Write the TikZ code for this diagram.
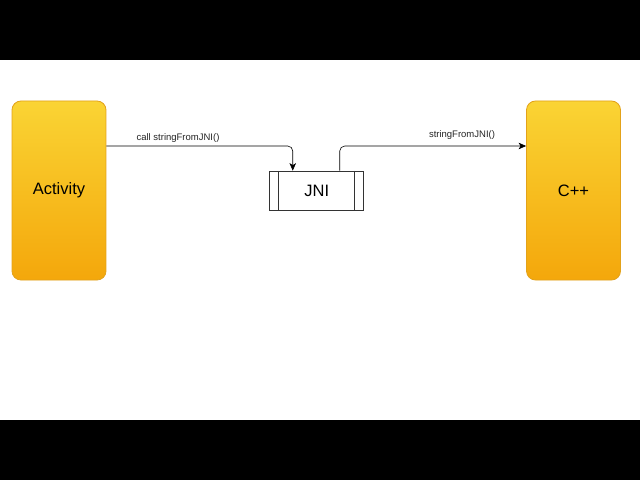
\documentclass[tikz,border=0pt]{standalone}
\usepackage{fontspec}
\setmainfont{Liberation Sans}
\usetikzlibrary{arrows.meta,positioning}

\definecolor{boxtop}{HTML}{FAD434}
\definecolor{boxbottom}{HTML}{F4A70B}
\definecolor{boxline}{HTML}{E3A21A}

\tikzset{
  layer/.style={draw=boxline, line width=0.8pt, rounded corners=9pt,
    top color=boxtop, bottom color=boxbottom,
    minimum width=94pt, minimum height=179pt, inner sep=0pt,
    font=\fontsize{16.5}{18}\selectfont},
  bridge/.style={draw=black!80, line width=0.7pt, fill=white,
    minimum width=94pt, minimum height=39pt, inner sep=0pt,
    font=\fontsize{16.5}{18}\selectfont,
    path picture={
      \draw[black!80, line width=0.7pt]
        ([xshift=8.5pt]path picture bounding box.north west) --
        ([xshift=8.5pt]path picture bounding box.south west)
        ([xshift=-9pt]path picture bounding box.north east) --
        ([xshift=-9pt]path picture bounding box.south east);
    }},
  call/.style={-{Stealth[length=7.5pt,width=6.5pt,inset=2pt]},
    rounded corners=5pt, line width=0.6pt},
  callname/.style={font=\fontsize{9.5}{10}\selectfont, text=black!85}
}

\begin{document}
\begin{tikzpicture}[x=1pt,y=1pt]
  \useasboundingbox (0,0) rectangle (640,480);
  \fill[white] (0,60) rectangle (640,420);
  \fill[black] (0,420) rectangle (640,480);
  \fill[black] (0,0) rectangle (640,60);

  \node[layer]  (activity) at (59,289.5)          {Activity};
  \node[bridge] (jni)      [right=163pt of activity] {JNI};
  \node[layer]  (cpp)      [right=162pt of jni]      {C++};

  \draw[call] ([yshift=44.5pt]activity.east) -| ([xshift=-24pt]jni.north);
  \draw[call] ([xshift=23pt]jni.north) |- ([yshift=44.5pt]cpp.west);

  \node[callname] (calllabel) at (178,342) {call stringFromJNI()};
  \node[callname] (retlabel)  at (462,345) {stringFromJNI()};
\end{tikzpicture}
\end{document}
